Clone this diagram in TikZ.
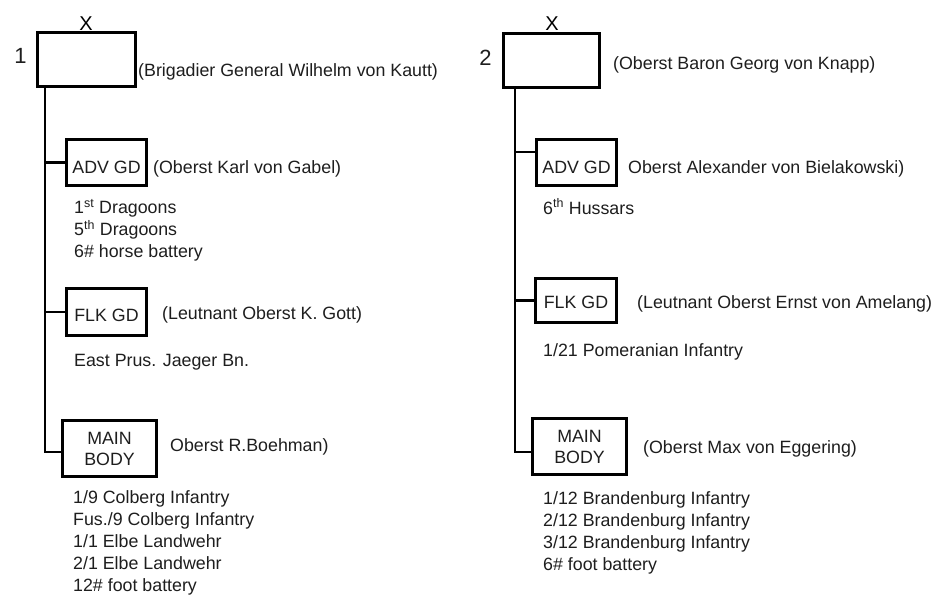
\documentclass[tikz,border=0pt]{standalone}
\usepackage{fontspec}
\setmainfont{Liberation Sans}
\definecolor{txt}{RGB}{30,30,30}
\tikzset{
  unitbox/.style={draw=black, line width=2.8pt, inner sep=0pt, align=center,
    font=\fontsize{17.8}{21}\selectfont, text=txt},
  conn/.style={line width=2.2pt, draw=black},
  lbl/.style={anchor=base west, inner sep=0pt, font=\fontsize{17.8}{22}\selectfont, text=txt},
  lst/.style={anchor=north west, inner sep=0pt, align=left, font=\fontsize{17.8}{22}\selectfont, text=txt},
  num/.style={anchor=base, inner sep=0pt, font=\fontsize{22}{24}\selectfont, text=txt},
  xmark/.style={anchor=base, inner sep=0pt, font=\fontsize{20}{20}\selectfont, text=black},
}
\begin{document}
\begin{tikzpicture}[x=1pt,y=-1pt]
\useasboundingbox[fill=white] (0,0) rectangle (941,595);

% ---------------- Left: brigade 1 ----------------
\coordinate (spineL) at (45,0);
\node[unitbox, minimum width=98.2pt, minimum height=54.2pt] (top1) at (86.5,59.5) {};
\node[xmark] (x1) at (86,30) {X};
\node[num] (n1) at (20.5,63) {1};
\node[lbl] (top1l) at (138,76) {(Brigadier General Wilhelm von Kautt)};

\node[unitbox, minimum width=80.2pt, minimum height=46.2pt, text height=21pt, text depth=0pt] (advL) at (106.5,162.5) {ADV GD};
\node[lbl] (advLl) at (153,173) {(Oberst Karl von Gabel)};
\node[lst] (advLs) at (74,199.1) {1\textsuperscript{st} Dragoons\\5\textsuperscript{th} Dragoons\\6\# horse battery};

\node[unitbox, minimum width=80.2pt, minimum height=47.2pt, text height=18pt, text depth=0pt] (flkL) at (106.5,312) {FLK GD};
\node[lbl] (flkLl) at (162,319) {(Leutnant Oberst K. Gott)};
\node[lbl] (flkLs) at (74,366) {East Prus. Jaeger Bn.};

\node[unitbox, minimum width=94.2pt, minimum height=56.2pt] (mainL) at (109.5,448.5) {MAIN\\BODY};
\node[lbl] (mainLl) at (170,451) {Oberst R.Boehman)};
\node[lst] (mainLs) at (73,490.1) {1/9 Colberg Infantry\\Fus./9 Colberg Infantry\\1/1 Elbe Landwehr\\2/1 Elbe Landwehr\\12\# foot battery};

\draw[conn] (top1.south -| spineL) |- ([yshift=-3.5pt]mainL.west);
\draw[conn] (advL.west -| spineL) -- (advL.west);
\draw[conn] (flkL.west -| spineL) -- (flkL.west);

% ---------------- Right: brigade 2 ----------------
\coordinate (spineR) at (515,0);
\node[unitbox, minimum width=96.2pt, minimum height=54.2pt] (top2) at (551.5,60.5) {};
\node[xmark] (x2) at (552,30) {X};
\node[num] (n2) at (485.5,65) {2};
\node[lbl] (top2l) at (613,69) {(Oberst Baron Georg von Knapp)};

\node[unitbox, minimum width=80.2pt, minimum height=46.2pt, text height=21pt, text depth=0pt] (advR) at (576.5,162.5) {ADV GD};
\node[lbl] (advRl) at (628,173) {Oberst Alexander von Bielakowski)};
\node[lbl] (advRs) at (543,214) {6\textsuperscript{th} Hussars};

\node[unitbox, minimum width=81.2pt, minimum height=44.2pt, text height=15pt, text depth=0pt] (flkR) at (576,300.5) {FLK GD};
\node[lbl] (flkRl) at (637,308) {(Leutnant Oberst Ernst von Amelang)};
\node[lbl] (flkRs) at (543,356) {1/21 Pomeranian Infantry};

\node[unitbox, minimum width=94.2pt, minimum height=56.2pt] (mainR) at (579.5,446.5) {MAIN\\BODY};
\node[lbl] (mainRl) at (643,453) {(Oberst Max von Eggering)};
\node[lst] (mainRs) at (543,491.1) {1/12 Brandenburg Infantry\\2/12 Brandenburg Infantry\\3/12 Brandenburg Infantry\\6\# foot battery};

\draw[conn] (top2.south -| spineR) |- ([yshift=-5.5pt]mainR.west);
\draw[conn] ([yshift=10.5pt]advR.west -| spineR) -- ([yshift=10.5pt]advR.west);
\draw[conn] (flkR.west -| spineR) -- (flkR.west);
\end{tikzpicture}
\end{document}
